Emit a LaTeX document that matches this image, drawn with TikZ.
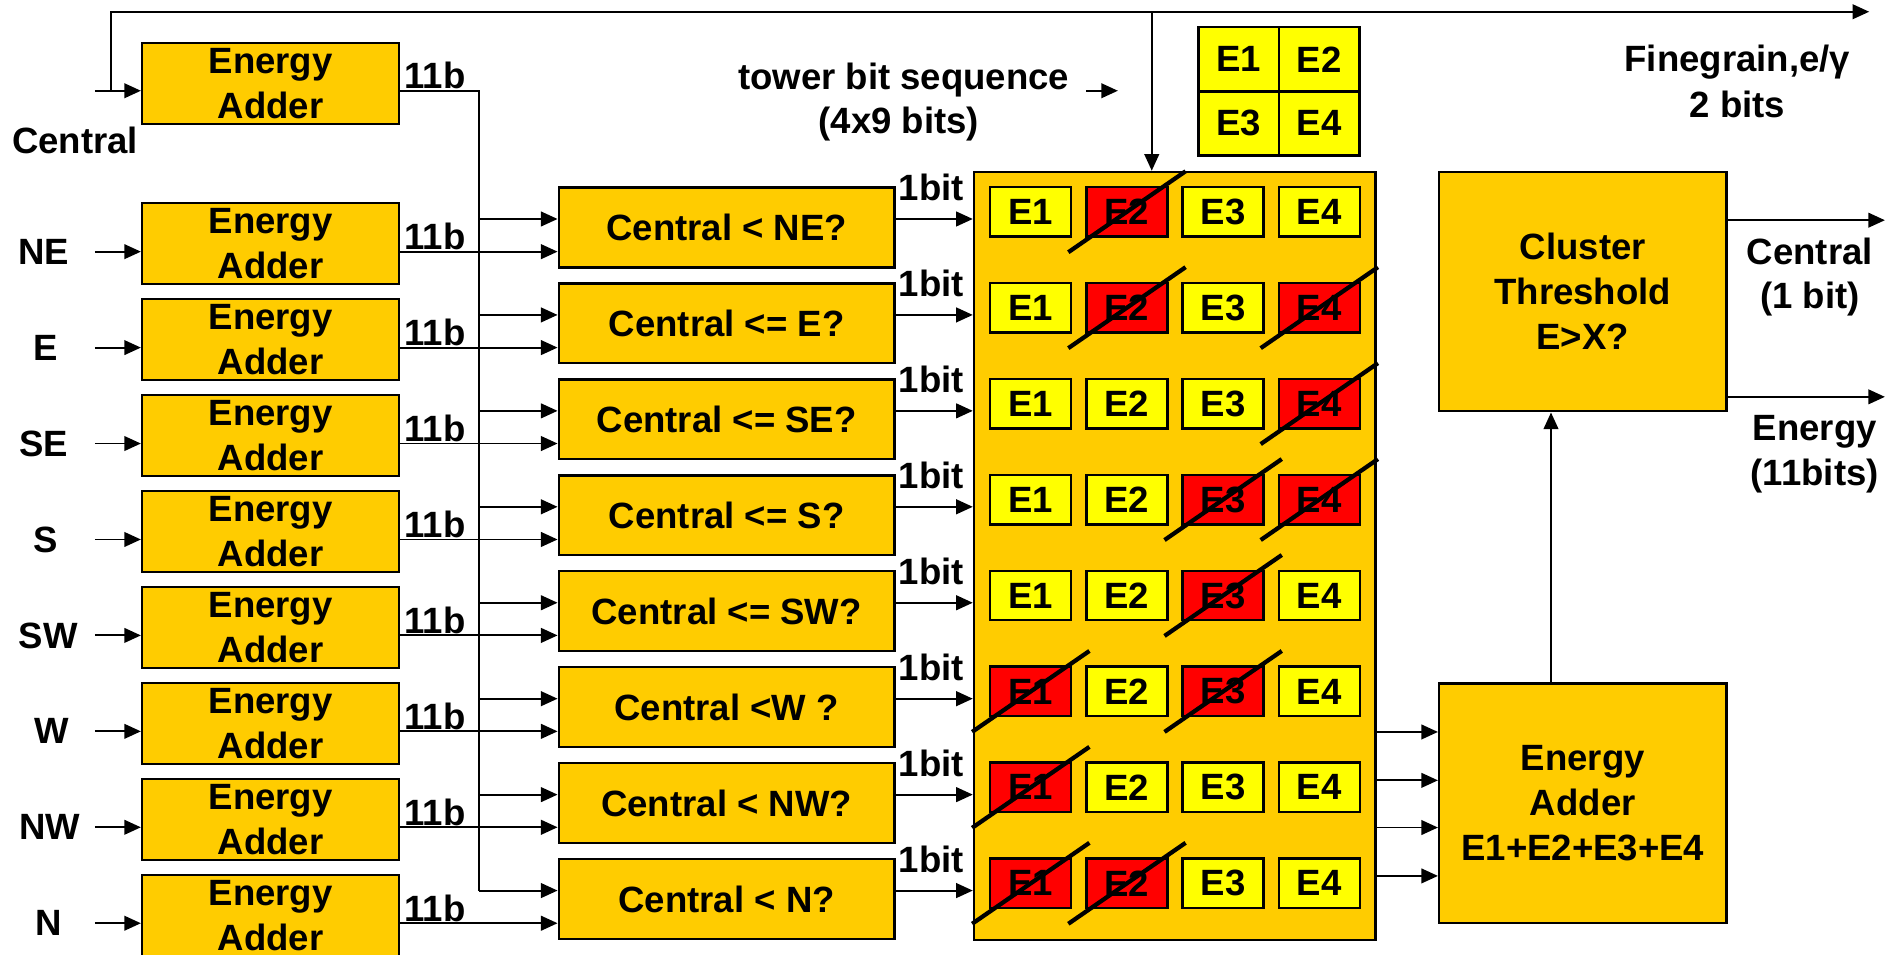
\documentclass[tikz,border=0pt]{standalone}
\usepackage{fontspec}
\setmainfont{Liberation Sans}
\usetikzlibrary{arrows.meta,calc}
\definecolor{gold}{HTML}{FFCC00}
\definecolor{yel}{HTML}{FFFF00}
\definecolor{redc}{HTML}{FF0000}
\newcommand{\dfont}{\fontsize{17.2}{21.2}\selectfont\bfseries}
\begin{document}
\begin{tikzpicture}[x=0.02cm, y=-0.02cm,
  font=\dfont,
  >={Triangle[length=7.8pt,width=6.9pt]},
  conn/.style={line width=0.9pt},
  box/.style={draw=black, line width=1.1pt, fill=gold, inner sep=0pt, align=center},
  adder/.style={box, minimum width=4.252cm, minimum height=1.34cm},
  cmp/.style={box, minimum width=5.554cm, minimum height=1.32cm},
  cell/.style={draw=black, line width=1.1pt, fill=yel, inner sep=0pt, minimum width=1.34cm, minimum height=0.82cm},
  bad/.style={cell, fill=redc},
  cross/.style={line width=2pt},
  lbl/.style={inner sep=0pt},
]
\clip (0,0) rectangle (1568,789);
\fill[white] (0,0) rectangle (1568,789);

% big grid box
\node[box, minimum width=6.64cm, minimum height=12.7cm] (grid) at (971,459.5) {};

% central adder
\node[adder] (a0) at (223.7,69.2) {Energy\\Adder};
\node[lbl, anchor=base] (lc) at (62,127) {Central};
\coordinate (cin) at (78.5,75);
\coordinate (cbr) at (91.4,75);
\coordinate (tr) at (1545,9.7);
\coordinate (tj) at (952,9.7);
\draw[conn,->] (cin) -- (a0.west |- cin);
\draw[conn,->] (cbr) |- (tr);
\draw[conn,->] (tj) -- (tj |- grid.north);
\coordinate (busTop) at (396,75);
\coordinate (busEnd) at (396,736.1);
\draw[conn] (a0.east |- cin) -- (busTop) -- (busEnd);
\node[lbl, anchor=base west] (b0) at (334,73.5) {11b};

% rows
\foreach \i/\lab/\lx/\q in {1/NE/36/{Central < NE?}, 2/E/38/{Central <= E?}, 3/SE/36/{Central <= SE?}, 4/S/38/{Central <= S?}, 5/SW/40/{Central <= SW?}, 6/W/43/{Central <W ?}, 7/NW/41/{Central < NW?}, 8/N/40/{Central < N?}} {
  \pgfmathsetmacro{\ya}{168+79.3*(\i-1)+40}
  \pgfmathsetmacro{\yac}{168+79.3*(\i-1)+33.5}
  \pgfmathsetmacro{\yc}{155+79.3*(\i-1)+33}
  \pgfmathsetmacro{\yu}{155+79.3*(\i-1)+26}
  \pgfmathsetmacro{\yb}{\ya-1.5}
  \pgfmathsetmacro{\yo}{\yu-15}
  \node[adder] (a\i) at (223.7,\yac) {Energy\\Adder};
  \node[lbl] (l\i) at (\lx,\ya) {\lab};
  \coordinate (in\i) at (78.5,\ya);
  \draw[conn,->] (in\i) -- (a\i.west |- in\i);
  \node[cmp] (c\i) at (600.65,\yc) {\q};
  \coordinate (bus\i) at (396,\yu);
  \draw[conn,->] (bus\i) -- (c\i.west |- bus\i);
  \draw[conn,->] (a\i.east |- in\i) -- (c\i.west |- in\i);
  \node[lbl, anchor=base west] (b\i) at (334,\yb) {11b};
  \draw[conn,->] (c\i.east |- bus\i) -- (grid.west |- bus\i);
  \node[lbl, anchor=base east] (o\i) at (797,\yo) {1bit};
}

% cells
\foreach \r/\c/\f in {1/1/0,1/2/1,1/3/0,1/4/0,
                      2/1/0,2/2/1,2/3/0,2/4/1,
                      3/1/0,3/2/0,3/3/0,3/4/1,
                      4/1/0,4/2/0,4/3/1,4/4/1,
                      5/1/0,5/2/0,5/3/1,5/4/0,
                      6/1/1,6/2/0,6/3/1,6/4/0,
                      7/1/1,7/2/0,7/3/0,7/4/0,
                      8/1/1,8/2/1,8/3/0,8/4/0} {
  \pgfmathsetmacro{\cx}{852+79.5*(\c-1)}
  \pgfmathsetmacro{\cy}{175+79.3*(\r-1)}
  \ifnum\f=1
    \node[bad] (g\r\c) at (\cx,\cy) {E\c};
    \draw[cross] ($(g\r\c.south west)+(-14,12)$) -- ($(g\r\c.north east)+(14,-12)$);
  \else
    \node[cell] (g\r\c) at (\cx,\cy) {E\c};
  \fi
}

% legend
\node[cell, minimum width=1.33cm, minimum height=1.06cm] (lg1) at (1024,49) {E1};
\node[cell, minimum width=1.33cm, minimum height=1.06cm] (lg2) at (1090.5,49) {E2};
\node[cell, minimum width=1.33cm, minimum height=1.06cm] (lg3) at (1024,102) {E3};
\node[cell, minimum width=1.33cm, minimum height=1.06cm] (lg4) at (1090.5,102) {E4};

% top texts
\node[lbl, anchor=base] (tb1) at (747,74) {tower bit sequence};
\node[lbl, anchor=base] (tb2) at (743,110) {(4x9 bits)};
\coordinate (ts1) at (898,75);
\coordinate (ts2) at (924,75);
\draw[conn,->] (ts1) -- (ts2);
\node[lbl, anchor=base] (fg1) at (1436,59) {Finegrain,e/γ};
\node[lbl, anchor=base] (fg2) at (1436,97) {2 bits};

% right blocks
\node[box, minimum width=4.75cm, minimum height=3.96cm] (cl) at (1308.25,241) {Cluster\\Threshold\\E>X?};
\node[box, minimum width=4.75cm, minimum height=3.96cm] (fa) at (1308.25,664) {Energy\\Adder\\E1+E2+E3+E4};
\coordinate (up) at (1282,0);
\draw[conn,->] (fa.north -| up) -- (cl.south -| up);
\coordinate (o1) at (1558,182);
\coordinate (o2) at (1558,328);
\draw[conn,->] (cl.east |- o1) -- (o1);
\draw[conn,->] (cl.east |- o2) -- (o2);
\node[lbl, anchor=base] (r1) at (1496,219) {Central};
\node[lbl, anchor=base] (r2) at (1496,255) {(1 bit)};
\node[lbl, anchor=base] (r3) at (1500,364) {Energy};
\node[lbl, anchor=base] (r4) at (1500,401) {(11bits)};
\foreach \k/\yy in {1/605, 2/645, 3/684, 4/724} {
  \coordinate (gi\k) at (0,\yy);
  \draw[conn,->] (grid.east |- gi\k) -- (fa.west |- gi\k);
}
\end{tikzpicture}
\end{document}
